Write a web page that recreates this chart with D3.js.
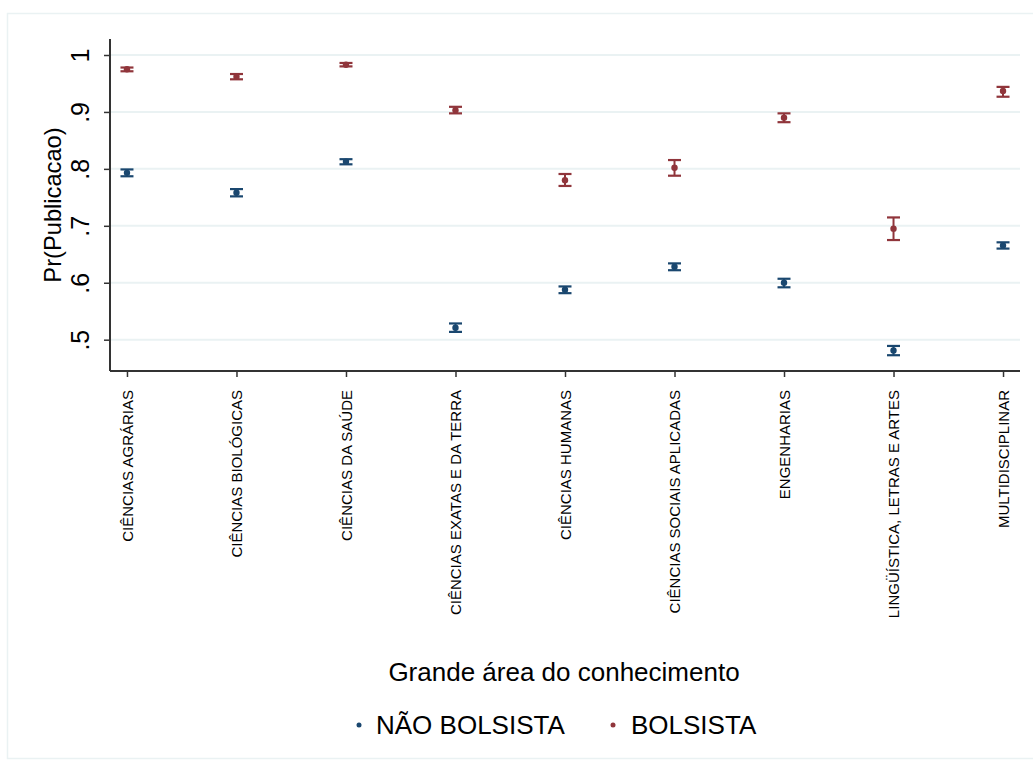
<!DOCTYPE html>
<html><head><meta charset="utf-8">
<script src="https://cdn.jsdelivr.net/npm/d3@7"></script>
<style>body{margin:0;background:#fff}svg{display:block}text{font-family:"Liberation Sans",Arial,sans-serif;fill:#000}</style>
</head><body>
<svg id="c" width="1033" height="762"></svg>
<script>
const categories = ["CIÊNCIAS AGRÁRIAS","CIÊNCIAS BIOLÓGICAS","CIÊNCIAS DA SAÚDE","CIÊNCIAS EXATAS E DA TERRA","CIÊNCIAS HUMANAS","CIÊNCIAS SOCIAIS APLICADAS","ENGENHARIAS","LINGÜÍSTICA, LETRAS E ARTES","MULTIDISCIPLINAR"];
const seriesNames = ["NÃO BOLSISTA","BOLSISTA"];
const naoEst = [0.793,0.758,0.8125,0.521,0.5876,0.628,0.600,0.481,0.6655];
const naoLo  = [0.787,0.7517,0.808,0.5137,0.5817,0.622,0.592,0.4727,0.660];
const naoHi  = [0.799,0.7645,0.817,0.5285,0.5935,0.634,0.607,0.489,0.671];
const bolEst = [0.975,0.962,0.983,0.903,0.780,0.802,0.890,0.695,0.9367];
const bolLo  = [0.9714,0.9573,0.980,0.8975,0.770,0.788,0.882,0.675,0.9267];
const bolHi  = [0.978,0.9666,0.986,0.909,0.791,0.8155,0.8975,0.7147,0.944];
const yTicks = [0.5,0.6,0.7,0.8,0.9,1];
const yTickLabels = [".5",".6",".7",".8",".9","1"];
const colors = ["#1a476f","#90353b"];

const svg = d3.select("#c");
const L=110,R=1020,T=39,B=371;
const FF = "'Liberation Sans', Arial, sans-serif";
// outer frame
svg.append("rect").attr("x",7.5).attr("y",13.5).attr("width",1040).attr("height",745)
  .attr("fill","none").attr("stroke","#eaf2f3").attr("stroke-width",1.5);

const x = d3.scalePoint().domain(categories).range([L,R]).padding(0.155);
const y = d3.scaleLinear().domain([0.4450,1.0281]).range([B,T]);

// gridlines
svg.append("g").selectAll("line").data(yTicks).join("line")
  .attr("x1",L).attr("x2",R).attr("y1",d=>y(d)).attr("y2",d=>y(d))
  .attr("stroke","#eaf2f3").attr("stroke-width",2);

// y axis
const ya = svg.append("g").attr("transform",`translate(${L},0)`)
  .call(d3.axisLeft(y).tickValues(yTicks).tickSize(6).tickFormat((d,i)=>yTickLabels[i]));
ya.attr("font-size",null).attr("font-family",null);
ya.select(".domain").attr("d",`M0,${T}V${B}`).attr("stroke","#333").attr("stroke-width",2);
ya.selectAll(".tick line").attr("stroke","#333").attr("stroke-width",1.5);
ya.selectAll(".tick text").attr("transform","rotate(-90)").attr("x",0).attr("y",-21)
  .attr("dy","0").attr("text-anchor","middle").attr("font-size",25).attr("font-family",FF).attr("fill","#000");

// x axis
const xa = svg.append("g").attr("transform",`translate(0,${B})`)
  .call(d3.axisBottom(x).tickSize(6));
xa.attr("font-size",null).attr("font-family",null);
xa.select(".domain").attr("d",`M${L},0H${R}`).attr("stroke","#333").attr("stroke-width",2);
xa.selectAll(".tick line").attr("stroke","#333").attr("stroke-width",1.5);
xa.selectAll(".tick text").attr("transform","rotate(-90)").attr("x",-19).attr("y",0)
  .attr("dy","0.35em").attr("text-anchor","end").attr("font-size",15).attr("font-family",FF).attr("fill","#000");

// titles
svg.append("text").attr("transform",`translate(61,205) rotate(-90)`).attr("text-anchor","middle")
  .attr("font-size",23.7).text("Pr(Publicacao)");
svg.append("text").attr("x",564).attr("y",681).attr("text-anchor","middle")
  .attr("font-size",26).text("Grande área do conhecimento");

// series
const series = [
  {name:seriesNames[0],est:naoEst,lo:naoLo,hi:naoHi,color:colors[0]},
  {name:seriesNames[1],est:bolEst,lo:bolLo,hi:bolHi,color:colors[1]}
];
const cap=6.5;
series.forEach(s=>{
  const g = svg.append("g");
  const data = categories.map((c,i)=>({c,e:s.est[i],lo:s.lo[i],hi:s.hi[i]}));
  g.selectAll(".v").data(data).join("line").attr("x1",d=>x(d.c)).attr("x2",d=>x(d.c))
    .attr("y1",d=>y(d.lo)).attr("y2",d=>y(d.hi)).attr("stroke",s.color).attr("stroke-width",2);
  g.selectAll(".t").data(data).join("line").attr("x1",d=>x(d.c)-cap).attr("x2",d=>x(d.c)+cap)
    .attr("y1",d=>y(d.hi)).attr("y2",d=>y(d.hi)).attr("stroke",s.color).attr("stroke-width",2.2);
  g.selectAll(".b").data(data).join("line").attr("x1",d=>x(d.c)-cap).attr("x2",d=>x(d.c)+cap)
    .attr("y1",d=>y(d.lo)).attr("y2",d=>y(d.lo)).attr("stroke",s.color).attr("stroke-width",2.2);
  g.selectAll("circle").data(data).join("circle").attr("cx",d=>x(d.c)).attr("cy",d=>y(d.e))
    .attr("r",3.2).attr("fill",s.color);
});

// legend
const leg = [{x:359,tx:376},{x:613,tx:631}];
series.forEach((s,i)=>{
  svg.append("circle").attr("cx",leg[i].x).attr("cy",725).attr("r",2.5).attr("fill",s.color);
  svg.append("text").attr("x",leg[i].tx).attr("y",734).attr("font-size",26).text(s.name);
});
</script>
</body></html>
